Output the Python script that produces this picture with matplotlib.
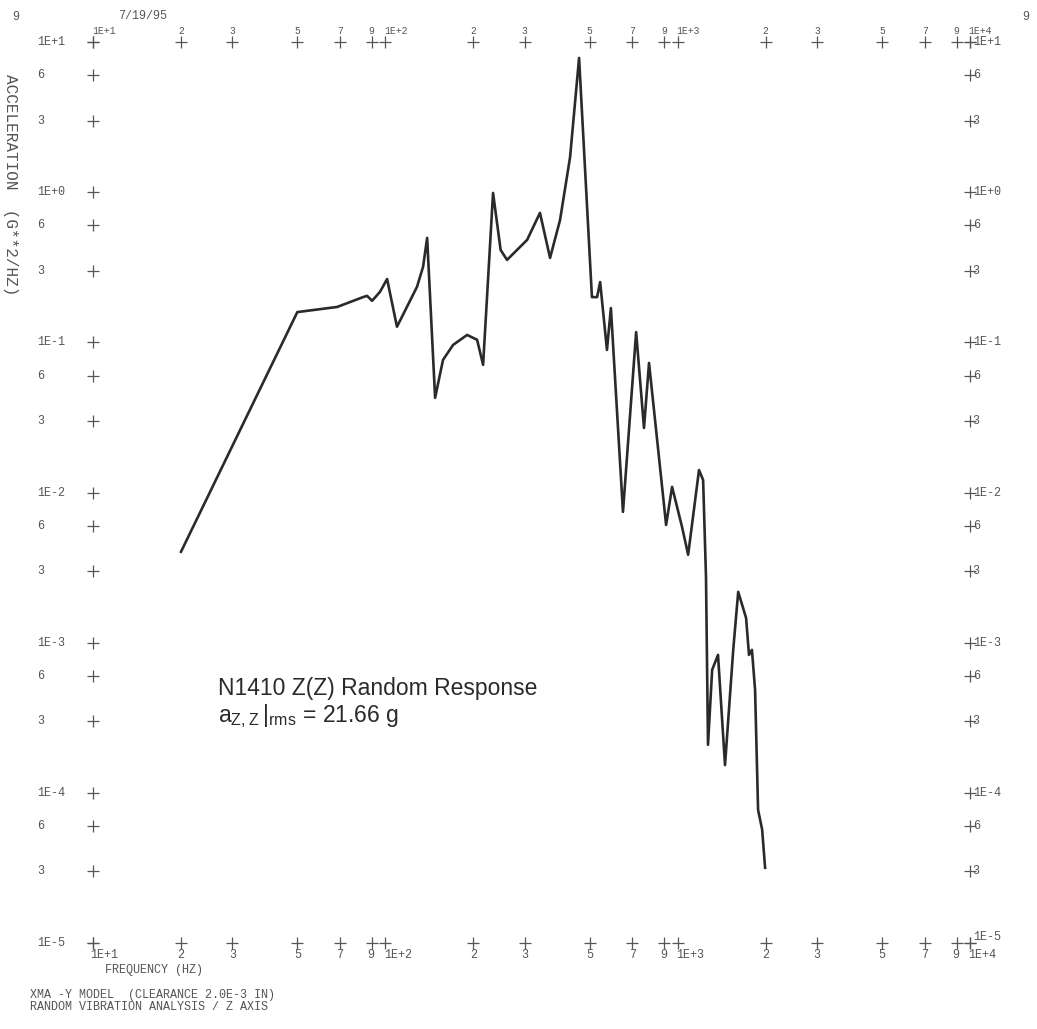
import matplotlib.pyplot as plt

# PSD response (Hz, g^2/Hz)
freq = [20, 50, 68.4, 83.9, 86.6, 90.1, 95.9, 101.4, 109.6, 128.3, 134.6, 139,
        148, 157.5, 170.5, 190.4, 206, 216, 233.6, 248, 260.8, 305.5, 338, 366,
        396, 428.5, 460, 509, 530, 543, 573, 591, 650, 721, 767, 798, 913, 957,
        1035, 1086, 1183, 1222, 1250, 1270, 1312, 1374, 1452, 1549, 1611, 1661,
        1714, 1754, 1795, 1840, 1884, 1945, 1991]
psd = [0.00403, 0.159, 0.172, 0.200, 0.204, 0.189, 0.217, 0.264, 0.127, 0.234,
       0.318, 0.496, 0.0427, 0.0764, 0.0961, 0.112, 0.104, 0.0708, 0.988, 0.412,
       0.354, 0.481, 0.728, 0.365, 0.653, 1.71, 7.83, 0.200, 0.200, 0.252, 0.0890,
       0.169, 0.00743, 0.117, 0.0269, 0.0729, 0.00608, 0.0109, 0.0059, 0.00385,
       0.0141, 0.0121, 0.00274, 0.000209, 0.000659, 0.000829, 0.000153, 0.000895,
       0.00218, 0.00179, 0.00146, 0.000829, 0.000895, 0.000485, 7.7e-5, 5.7e-5,
       3.17e-5]

# axis tick positions / labels
x_decades = [10, 100, 1000]
x_decade_labels = ['1E+1', '1E+2', '1E+3']
x_mults = [2, 3, 5, 7, 9]
x_end, x_end_label = 10000, '1E+4'
y_decades = [1e-5, 1e-4, 1e-3, 1e-2, 1e-1, 1e0]
y_decade_labels = ['1E-5', '1E-4', '1E-3', '1E-2', '1E-1', '1E+0']
y_mults = [3, 6]
y_end, y_end_label = 10, '1E+1'

title_line = 'N1410 Z(Z) Random Response'
rms_line = r'$\mathregular{a_{Z,Z}\,|_{rms}}$ = 21.66 g'
ylabel = 'ACCELERATION  (G**2/HZ)'
footer = ['XMA -Y MODEL  (CLEARANCE 2.0E-3 IN)',
          'RANDOM VIBRATION ANALYSIS / Z AXIS']

W, H = 1037, 1029
fig = plt.figure(figsize=(W / 100, H / 100), dpi=100)
ax = fig.add_axes([93 / W, 1 - 943 / H, 877 / W, 901 / H])
ax.set_xscale('log')
ax.set_yscale('log')
ax.set_xlim(10, 10000)
ax.set_ylim(1e-5, 10)
ax.axis('off')

ink = '#2a2a2a'
tick_ink = '#555555'
mono = 'Liberation Mono'
fs = 8.5

ax.plot(freq, psd, color=ink, lw=1.9, solid_joinstyle='round')

# tick crosses and labels
xt, xl = [], []
for d, lab in zip(x_decades, x_decade_labels):
    xt.append(d)
    xl.append(lab)
    for m in x_mults:
        xt.append(d * m)
        xl.append(str(m))
xt.append(x_end)
xl.append(x_end_label)

yt, yl = [], []
for d, lab in zip(y_decades, y_decade_labels):
    yt.append(d)
    yl.append(lab)
    for m in y_mults:
        yt.append(d * m)
        yl.append(str(m))
yt.append(y_end)
yl.append(y_end_label)

xtr = ax.get_xaxis_transform()
ytr = ax.get_yaxis_transform()
mk = dict(marker='+', ls='none', color=tick_ink, ms=8, mew=0.9, clip_on=False)
ax.plot(xt, [0] * len(xt), transform=xtr, **mk)
ax.plot(xt, [1] * len(xt), transform=xtr, **mk)
ax.plot([0] * len(yt), yt, transform=ytr, **mk)
ax.plot([1] * len(yt), yt, transform=ytr, **mk)


def x_align(x, lab):
    # the 9 and the next decade label sit almost on top of each other
    if lab == '9':
        return 'right', 2
    if x == 10:
        return 'center', 8
    if x > 10:
        return 'left', -1
    return 'center', 0


for x, lab in zip(xt, xl):
    ha, dx = x_align(x, lab) if (lab == '9' or 'E' in lab) else ('center', 0)
    ax.annotate(lab, (x, 0), xycoords=xtr, xytext=(dx, -4), ha=ha, va='top',
                family=mono, fontsize=fs, color=tick_ink, textcoords='offset points')
    ax.annotate(lab, (x, 1), xycoords=xtr, xytext=(dx, 4), ha=ha, va='bottom',
                family=mono, fontsize=fs - 1.5, color=tick_ink, textcoords='offset points')
for y, lab in zip(yt, yl):
    ax.annotate(lab, (0, y), xycoords=ytr, xytext=(-40, 0), ha='left', va='center',
                family=mono, fontsize=fs, color=tick_ink, textcoords='offset points')
    dy = 4 if y == 1e-5 else 0
    ax.annotate(lab, (1, y), xycoords=ytr, xytext=(2, dy), ha='left', va='center',
                family=mono, fontsize=fs, color=tick_ink, textcoords='offset points')

# corner marks, date and axis titles
fig.text(12 / W, 1 - 17 / H, '9', family=mono, fontsize=fs, color=tick_ink, ha='left', va='center')
fig.text(1022 / W, 1 - 17 / H, '9', family=mono, fontsize=fs, color=tick_ink, ha='left', va='center')
fig.text(118 / W, 1 - 16 / H, '7/19/95', family=mono, fontsize=fs, color=tick_ink, ha='left', va='center')
fig.text(10 / W, 1 - 185 / H, ylabel, family=mono, fontsize=11.5, color=tick_ink,
         rotation=270, ha='center', va='center')
fig.text(105 / W, 1 - 970 / H, 'FREQUENCY (HZ)', family=mono, fontsize=fs, color=tick_ink,
         ha='left', va='center')
for i, line in enumerate(footer):
    fig.text(30 / W, 1 - (995 + 12 * i) / H, line, family=mono, fontsize=fs, color=tick_ink,
             ha='left', va='center')

# annotation
ax.text(0.142, 0.282, title_line, transform=ax.transAxes, family='Liberation Sans',
        fontsize=16.5, color=ink, ha='left', va='center')
ax.text(0.142, 0.252, rms_line, transform=ax.transAxes, family='Liberation Sans',
        fontsize=16.5, color=ink, ha='left', va='center')

fig.savefig('out.png', dpi=100)
